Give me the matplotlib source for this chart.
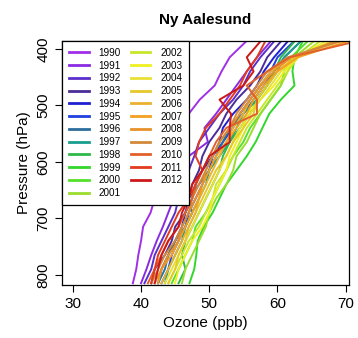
import matplotlib
matplotlib.use('Agg')
import matplotlib.pyplot as plt

plt.rcParams['font.family'] = ['Liberation Sans', 'DejaVu Sans']

# pressure levels (hPa) shared by all profiles
pressure = [815, 790, 765, 740, 715, 690, 665, 640, 615, 590,
            565, 540, 515, 490, 465, 440, 415, 380]

years = [str(y) for y in range(1990, 2013)]

colors = ['#A030E8', '#8A2BE2', '#5B2FC9', '#4B2D9A', '#1F1FD0', '#2040E0',
          '#2C6E9E', '#1A9E8F', '#2EB84A', '#33D62B', '#55E02C', '#9ADD2E',
          '#C8E62A', '#F0F020', '#E8E035', '#E6C828', '#EAB030', '#F4A020',
          '#E8902A', '#D28A3A', '#E2602A', '#E23A1E', '#CC1818']

# ozone (ppb) per year at each pressure level
ozone = [
    [38.8, 39.3, 39.6, 40.0, 40.3, 41.4, 42.0, 42.5, 43.0, 43.8, 44.8, 45.8, 47.0, 48.6, 50.8, 51.8, 53.0, 56.0],
    [40.0, 40.8, 41.5, 42.3, 43.2, 44.0, 44.8, 45.5, 46.3, 47.0, 49.8, 49.3, 51.0, 52.5, 54.0, 55.5, 57.0, 59.5],
    [40.5, 41.5, 42.0, 43.0, 44.0, 45.0, 45.5, 46.5, 47.0, 47.8, 48.5, 50.0, 51.5, 53.5, 55.0, 56.0, 57.5, 60.0],
    [41.5, 42.0, 43.5, 44.5, 45.0, 46.5, 47.0, 47.5, 48.5, 49.0, 50.0, 51.5, 52.5, 54.0, 56.0, 57.5, 58.5, 61.0],
    [42.5, 43.0, 44.0, 45.0, 46.0, 46.5, 47.5, 48.0, 49.0, 50.5, 51.5, 52.0, 53.5, 55.5, 57.0, 58.0, 59.5, 62.0],
    [43.0, 44.0, 44.5, 45.5, 46.5, 47.0, 48.0, 49.0, 50.0, 50.5, 52.0, 53.5, 54.5, 56.0, 57.5, 59.0, 60.0, 63.0],
    [42.5, 43.5, 44.0, 45.0, 46.5, 47.5, 47.0, 48.5, 50.0, 51.0, 52.0, 53.0, 55.0, 56.5, 58.0, 59.5, 61.0, 64.0],
    [43.5, 44.0, 45.0, 46.0, 46.5, 47.5, 48.5, 49.5, 50.0, 51.5, 53.0, 54.0, 55.0, 57.0, 58.5, 60.0, 61.0, 64.0],
    [45.5, 46.5, 46.0, 46.5, 47.5, 48.5, 49.5, 50.5, 51.5, 52.0, 53.0, 54.5, 56.0, 57.0, 58.5, 59.5, 60.5, 63.0],
    [47.1, 47.8, 48.1, 48.3, 49.2, 50.5, 51.5, 52.5, 54.0, 55.5, 56.8, 57.8, 58.8, 60.5, 62.5, 62.2, 62.5, 64.0],
    [44.5, 45.5, 46.5, 47.5, 48.0, 49.5, 50.5, 51.5, 52.5, 53.5, 55.0, 56.0, 57.5, 59.0, 60.5, 61.0, 62.0, 65.0],
    [46.0, 46.5, 47.5, 48.5, 49.5, 50.0, 51.0, 52.5, 53.5, 54.0, 55.5, 56.5, 57.5, 59.0, 60.5, 61.5, 62.5, 66.0],
    [44.0, 45.0, 46.0, 47.0, 48.5, 49.5, 50.5, 51.0, 52.5, 53.5, 54.5, 55.5, 57.0, 58.5, 60.0, 61.5, 63.0, 67.0],
    [45.0, 45.5, 46.5, 47.5, 49.0, 50.0, 50.5, 51.5, 52.5, 53.0, 54.0, 55.0, 55.5, 57.5, 59.5, 61.0, 63.0, 68.0],
    [43.5, 44.5, 45.5, 46.5, 47.5, 48.5, 49.5, 50.5, 51.5, 52.5, 53.5, 54.5, 56.0, 57.5, 59.0, 60.5, 63.0, 69.0],
    [44.0, 45.0, 45.5, 46.5, 47.0, 48.0, 49.0, 50.0, 51.0, 52.5, 53.5, 55.0, 56.5, 57.0, 58.5, 60.0, 62.5, 70.0],
    [43.0, 44.0, 45.0, 46.0, 47.0, 48.0, 48.5, 49.5, 50.5, 51.5, 52.5, 53.5, 55.0, 56.0, 57.5, 59.0, 62.0, 71.0],
    [42.5, 43.0, 44.5, 45.5, 46.5, 47.5, 48.5, 49.0, 50.0, 51.0, 52.5, 54.0, 55.5, 56.5, 58.0, 60.0, 63.0, 72.0],
    [42.0, 43.0, 44.0, 45.5, 46.0, 47.0, 48.0, 49.0, 49.5, 50.5, 51.5, 53.0, 54.5, 56.0, 57.5, 59.5, 62.0, 70.0],
    [41.5, 42.5, 43.5, 45.0, 46.0, 47.0, 47.5, 48.5, 49.5, 50.5, 51.5, 53.0, 54.0, 55.5, 57.0, 58.5, 61.5, 71.0],
    [41.0, 42.0, 43.0, 44.0, 45.5, 46.5, 47.5, 48.0, 49.0, 50.0, 51.0, 52.5, 57.0, 57.0, 55.5, 58.5, 61.8, 74.0],
    [41.5, 42.0, 42.5, 43.5, 44.5, 45.5, 47.0, 48.0, 49.0, 48.0, 48.5, 49.5, 51.5, 53.0, 54.5, 55.5, 57.0, 58.5],
    [42.0, 42.5, 43.0, 44.0, 45.5, 46.0, 47.0, 47.5, 49.0, 50.0, 53.0, 53.0, 53.2, 51.5, 55.0, 56.5, 55.5, 58.0],
]

fig = plt.figure(figsize=(3.58, 3.38), dpi=100)
ax = fig.add_axes([0.173, 0.157, 0.802, 0.722])

for yr, col, vals in zip(years, colors, ozone):
    ax.plot(vals, pressure, color=col, lw=1.4, label=yr)

ax.set_xlim(28.4, 70.5)
ax.set_ylim(818, 386)
ax.set_xticks([30, 40, 50, 60, 70])
ax.set_yticks([400, 500, 600, 700, 800])
ax.tick_params(labelsize=11, length=5, width=0.8)
for lab in ax.get_yticklabels():
    lab.set_rotation(90)
    lab.set_va('center')
for s in ax.spines.values():
    s.set_linewidth(0.9)

ax.set_title('Ny Aalesund', fontsize=11, fontweight='bold', pad=12)
ax.set_xlabel('Ozone (ppb)', fontsize=11)
ax.set_ylabel('Pressure (hPa)', fontsize=11)

leg = ax.legend(ncol=2, loc='upper left', borderaxespad=0, fontsize=7.1,
                handlelength=2.0, handletextpad=1.0, columnspacing=1.0,
                labelspacing=0.28, borderpad=0.7, fancybox=False,
                framealpha=1, edgecolor='black')
leg.get_frame().set_linewidth(0.9)
for h in leg.get_lines():
    h.set_linewidth(2.0)

plt.savefig('out.png', dpi=100)
